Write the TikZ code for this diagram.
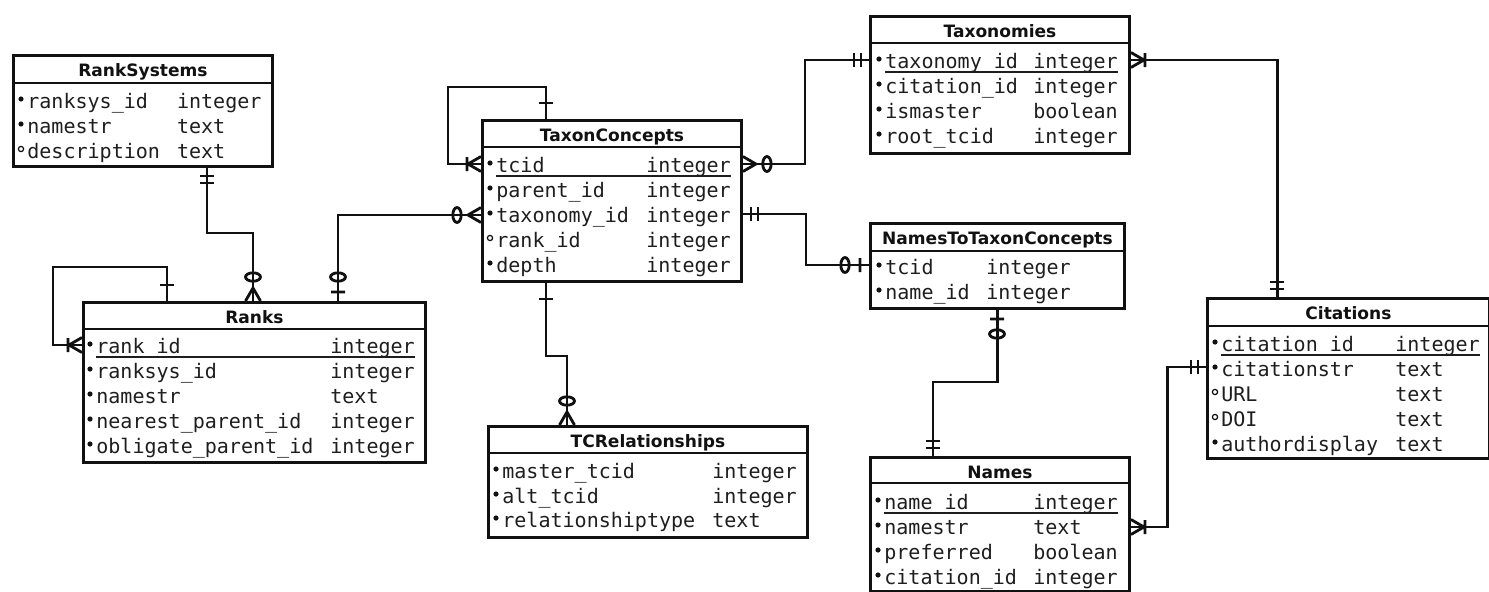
\documentclass[tikz,border=0pt]{standalone}
\usepackage{fontspec}
\setmainfont{DejaVu Sans}
\newfontfamily\fieldfont{DejaVu Sans Mono}
\usetikzlibrary{calc}
\definecolor{ink}{HTML}{111111}
\definecolor{fieldink}{HTML}{1E1E1E}

\tikzset{
  tbl/.style={draw=ink, line width=1.7pt, inner sep=0pt, anchor=north west, fill=white},
  hdrline/.style={draw=ink, line width=1.6pt},
  ttl/.style={anchor=base, inner sep=0pt, font=\fontsize{9.7}{11}\selectfont\bfseries, text=ink},
  fname/.style={anchor=base west, inner sep=0pt, font=\fieldfont\fontsize{11.4}{13}\selectfont, text=fieldink},
  req/.style={fill=ink},
  opt/.style={draw=ink, line width=0.7pt},
  uline/.style={draw=fieldink, line width=0.8pt},
  rel/.style={draw=ink, line width=1.7pt, line join=miter},
  mk/.style={draw=ink, line width=1.6pt, line join=round},
  % crow's foot end marks; local +x points away from the table edge
  mkone/.pic={\draw[mk] (16,-7) -- (16,7);},
  mkoone/.pic={\draw[mk] (8,-7) -- (8,7) (15,-7) -- (15,7);},
  mkzone/.pic={\draw[mk] (9,-7) -- (9,7) (24,0) ellipse [x radius=4.2, y radius=7.5];},
  mkomany/.pic={\draw[mk] (0,-7.5) -- (13,0) -- (0,7.5) (14,-7) -- (14,7);},
  mkzmany/.pic={\draw[mk] (0,-7.5) -- (13,0) -- (0,7.5) (24,0) ellipse [x radius=4.2, y radius=7.5];},
}

% one attribute row: id, req/opt, name x, baseline, name, type x, type
\newcommand\erfield[7]{%
  \node[fname] (#1n) at (#3,#4) {#5};
  \node[fname] (#1t) at (#6,#4) {#7};
  \path[#2] ($(#1n.base west)+(-6,-9)$) circle [radius=2.6];
}
\newcommand\keyline[1]{%
  \draw[uline] ([yshift=-0.08cm]#1n.base west) -- ([yshift=-0.08cm]#1t.base east);
}

\begin{document}
\begin{tikzpicture}[x=0.02cm, y=-0.02cm]
\useasboundingbox[fill=white] (0,0) rectangle (1489,592);

% ---------- tables ----------
% RankSystems
\node[tbl, minimum width=5.18cm, minimum height=2.22cm] (rs) at (12,54) {};
\draw[hdrline] (rs.west |- 0,83) -- (rs.east |- 0,83);
\node[ttl] (rsh) at (rs.north |- 0,76.5) {RankSystems};
\erfield{rs1}{req}{27}{108}{ranksys\_id}{176.7}{integer}
\erfield{rs2}{req}{27}{133}{namestr}{176.7}{text}
\erfield{rs3}{opt}{27}{158}{description}{176.7}{text}

% Ranks
\node[tbl, minimum width=6.84cm, minimum height=3.20cm] (rk) at (82,301) {};
\draw[hdrline] (rk.west |- 0,329) -- (rk.east |- 0,329);
\node[ttl] (rkh) at (rk.north |- 0,323) {Ranks};
\erfield{rk1}{req}{96}{353}{rank\_id}{330}{integer}
\erfield{rk2}{req}{96}{378}{ranksys\_id}{330}{integer}
\erfield{rk3}{req}{96}{403}{namestr}{330}{text}
\erfield{rk4}{req}{96}{428}{nearest\_parent\_id}{330}{integer}
\erfield{rk5}{req}{96}{453}{obligate\_parent\_id}{330}{integer}
\keyline{rk1}

% TaxonConcepts
\node[tbl, minimum width=5.18cm, minimum height=3.22cm] (tc) at (481,119) {};
\draw[hdrline] (tc.west |- 0,147) -- (tc.east |- 0,147);
\node[ttl] (tch) at (tc.north |- 0,141.5) {TaxonConcepts};
\erfield{tc1}{req}{496}{172}{tcid}{646}{integer}
\erfield{tc2}{req}{496}{197}{parent\_id}{646}{integer}
\erfield{tc3}{req}{496}{222}{taxonomy\_id}{646}{integer}
\erfield{tc4}{opt}{496}{247}{rank\_id}{646}{integer}
\erfield{tc5}{req}{496}{272}{depth}{646}{integer}
\keyline{tc1}

% Taxonomies
\node[tbl, minimum width=5.18cm, minimum height=2.74cm] (tx) at (869,15) {};
\draw[hdrline] (tx.west |- 0,43) -- (tx.east |- 0,43);
\node[ttl] (txh) at (tx.north |- 0,37.5) {Taxonomies};
\erfield{tx1}{req}{885}{68}{taxonomy\_id}{1033}{integer}
\erfield{tx2}{req}{885}{93}{citation\_id}{1033}{integer}
\erfield{tx3}{req}{885}{118}{ismaster}{1033}{boolean}
\erfield{tx4}{req}{885}{143}{root\_tcid}{1033}{integer}
\keyline{tx1}

% NamesToTaxonConcepts
\node[tbl, minimum width=5.08cm, minimum height=1.70cm] (ntc) at (869,222) {};
\draw[hdrline] (ntc.west |- 0,251) -- (ntc.east |- 0,251);
\node[ttl] (ntch) at (ntc.north |- 0,244.5) {NamesToTaxonConcepts};
\erfield{ntc1}{req}{885}{274}{tcid}{986}{integer}
\erfield{ntc2}{req}{885}{299}{name\_id}{986}{integer}

% Citations
\node[tbl, minimum width=5.64cm, minimum height=3.20cm] (ct) at (1206,297) {};
\draw[hdrline] (ct.west |- 0,326) -- (ct.east |- 0,326);
\node[ttl] (cth) at (ct.north |- 0,319.5) {Citations};
\erfield{ct1}{req}{1221}{351}{citation\_id}{1395}{integer}
\erfield{ct2}{req}{1221}{376}{citationstr}{1395}{text}
\erfield{ct3}{opt}{1221}{401}{URL}{1395}{text}
\erfield{ct4}{opt}{1221}{426}{DOI}{1395}{text}
\erfield{ct5}{req}{1221}{451}{authordisplay}{1395}{text}
\keyline{ct1}

% TCRelationships
\node[tbl, minimum width=6.38cm, minimum height=2.22cm] (tcr) at (487,425) {};
\draw[hdrline] (tcr.west |- 0,453) -- (tcr.east |- 0,453);
\node[ttl] (tcrh) at (tcr.north |- 0,447.5) {TCRelationships};
\erfield{tcr1}{req}{502}{478}{master\_tcid}{712}{integer}
\erfield{tcr2}{req}{502}{503}{alt\_tcid}{712}{integer}
\erfield{tcr3}{req}{502}{527}{relationshiptype}{712}{text}

% Names
\node[tbl, minimum width=5.18cm, minimum height=2.68cm] (nm) at (869,456) {};
\draw[hdrline] (nm.west |- 0,483) -- (nm.east |- 0,483);
\node[ttl] (nmh) at (nm.north |- 0,478.5) {Names};
\erfield{nm1}{req}{884}{509}{name\_id}{1033}{integer}
\erfield{nm2}{req}{884}{534}{namestr}{1033}{text}
\erfield{nm3}{req}{884}{559}{preferred}{1033}{boolean}
\erfield{nm4}{req}{884}{584}{citation\_id}{1033}{integer}
\keyline{nm1}

% ---------- relationships ----------
% RankSystems -> Ranks
\draw[rel] (rs.south -| 207,0) coordinate (c1a) -- (207,233) -- (253,233) -- (rk.north -| 253,0) coordinate (c1b);
% TaxonConcepts.taxonomy_id -> Ranks
\draw[rel] (tc.west |- 0,215) coordinate (c2a) -- (338,215) -- (rk.north -| 338,0) coordinate (c2b);
% Ranks self reference
\draw[rel] (rk.north -| 167,0) coordinate (c3a) -- (167,267) -- (53,267) -- (53,345) -- (rk.west |- 0,345) coordinate (c3b);
% TaxonConcepts self reference
\draw[rel] (tc.north -| 546,0) coordinate (c4a) -- (546,87) -- (448,87) -- (448,164) -- (tc.west |- 0,164) coordinate (c4b);
% TaxonConcepts -> Taxonomies
\draw[rel] (tc.east |- 0,164) coordinate (c5a) -- (805,164) -- (805,60) -- (tx.west |- 0,60) coordinate (c5b);
% TaxonConcepts -> NamesToTaxonConcepts
\draw[rel] (tc.east |- 0,214) coordinate (c6a) -- (806,214) -- (806,265) -- (ntc.west |- 0,265) coordinate (c6b);
% Taxonomies -> Citations
\draw[rel] (tx.east |- 0,60) coordinate (c7a) -- (1277,60) -- (ct.north -| 1277,0) coordinate (c7b);
% NamesToTaxonConcepts -> Names
\draw[rel] (ntc.south -| 997,0) coordinate (c8a) -- (997,382) -- (933,382) -- (nm.north -| 933,0) coordinate (c8b);
% Names -> Citations
\draw[rel] (nm.east |- 0,527) coordinate (c9a) -- (1167,527) -- (1167,367) -- (ct.west |- 0,367) coordinate (c9b);
% TaxonConcepts -> TCRelationships
\draw[rel] (tc.south -| 546,0) coordinate (c10a) -- (546,356) -- (567,356) -- (tcr.north -| 567,0) coordinate (c10b);

% ---------- end marks ----------
\pic[rotate=-90] at (c1a) {mkoone};
\pic[rotate=90]  at (c1b) {mkzmany};
\pic[rotate=180] at (c2a) {mkzmany};
\pic[rotate=90]  at (c2b) {mkzone};
\pic[rotate=90]  at (c3a) {mkone};
\pic[rotate=180] at (c3b) {mkomany};
\pic[rotate=90]  at (c4a) {mkone};
\pic[rotate=180] at (c4b) {mkomany};
\pic             at (c5a) {mkzmany};
\pic[rotate=180] at (c5b) {mkoone};
\pic             at (c6a) {mkoone};
\pic[rotate=180] at (c6b) {mkzone};
\pic             at (c7a) {mkomany};
\pic[rotate=90]  at (c7b) {mkoone};
\pic[rotate=-90] at (c8a) {mkzone};
\pic[rotate=90]  at (c8b) {mkoone};
\pic             at (c9a) {mkomany};
\pic[rotate=180] at (c9b) {mkoone};
\pic[rotate=-90] at (c10a) {mkone};
\pic[rotate=90]  at (c10b) {mkzmany};
\end{tikzpicture}
\end{document}
